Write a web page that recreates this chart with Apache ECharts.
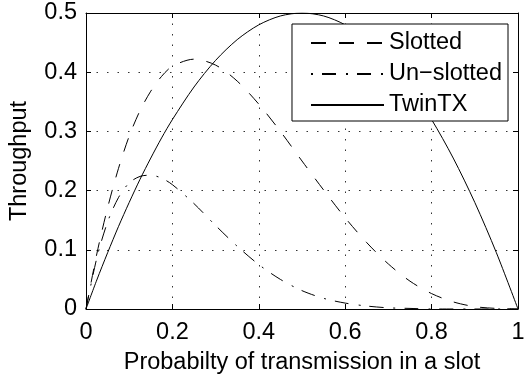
<!DOCTYPE html>
<html>
<head>
<meta charset="utf-8">
<script src="https://cdn.jsdelivr.net/npm/echarts@6/dist/echarts.min.js"></script>
<style>
  html, body { margin: 0; padding: 0; background: #fff; }
  #chart { width: 529px; height: 380px; }
</style>
</head>
<body>
<div id="chart"></div>
<script>
// probability of transmission (x samples)
const pValues = [0, 0.025, 0.05, 0.075, 0.1, 0.125, 0.15, 0.175, 0.2, 0.25, 0.3, 0.35, 0.4,
  0.45, 0.5, 0.55, 0.6, 0.65, 0.7, 0.75, 0.8, 0.85, 0.9, 0.95, 1]
const slotted = [0, 0.093, 0.171, 0.237, 0.292, 0.335, 0.368, 0.393, 0.410, 0.422, 0.412, 0.385, 0.346,
  0.300, 0.250, 0.201, 0.154, 0.112, 0.076, 0.047, 0.026, 0.012, 0.004, 0.001, 0]
const unSlotted = [0, 0.086, 0.147, 0.188, 0.213, 0.224, 0.226, 0.221, 0.210, 0.178, 0.141, 0.106, 0.075,
  0.050, 0.031, 0.018, 0.010, 0.005, 0.002, 0.001, 0, 0, 0, 0, 0]
const twinTX = [0, 0.049, 0.095, 0.139, 0.180, 0.219, 0.255, 0.289, 0.320, 0.375, 0.420, 0.455, 0.480,
  0.495, 0.500, 0.495, 0.480, 0.455, 0.420, 0.375, 0.320, 0.255, 0.180, 0.095, 0]
const seriesNames = ['Slotted', 'Un\u2212slotted', 'TwinTX']

const font = 'Liberation Sans, Arial, sans-serif'
const fontSize = 23.5
const pairs = ys => pValues.map((p, i) => [p, ys[i]])

const dashed = [14, 13]
const dashDot = [14, 10, 2, 9]

const chart = echarts.init(document.getElementById('chart'), null, { renderer: 'canvas' })

// matlab style box: ticks inside on all four sides
const boxAxis = (extra) => Object.assign({
  type: 'value',
  axisLine: { show: true, onZero: false, lineStyle: { color: '#000', width: 1 } },
  axisTick: { show: true, inside: true, length: 5, lineStyle: { color: '#000' } },
  axisLabel: { show: false },
  splitLine: { show: false }
}, extra)

const gridLine = { show: true, lineStyle: { color: '#333', width: 1, type: [1.5, 9] } }

chart.setOption({
  animation: false,
  backgroundColor: '#fff',
  grid: { left: 83, right: 11, top: 13, bottom: 66 },
  legend: {
    orient: 'vertical',
    right: 21,
    top: 24,
    padding: [7, 6, 4, 18],
    itemGap: 7,
    itemWidth: 73,
    itemHeight: 14,
    backgroundColor: '#fff',
    borderColor: '#000',
    borderWidth: 1,
    borderRadius: 0,
    itemStyle: { color: 'transparent', borderColor: 'transparent', borderWidth: 0 },
    textStyle: { fontFamily: font, fontSize: fontSize, color: '#000' },
    data: [
      { name: seriesNames[0], lineStyle: { type: [15, 13] } },
      { name: seriesNames[1], lineStyle: { type: [2, 9, 14, 10] } },
      { name: seriesNames[2] }
    ]
  },
  xAxis: [
    boxAxis({
      min: 0, max: 1, interval: 0.2,
      position: 'bottom',
      name: 'Probabilty of transmission in a slot',
      nameLocation: 'middle',
      nameGap: 42,
      nameTextStyle: { fontFamily: font, fontSize: fontSize, color: '#000' },
      axisLabel: { show: true, margin: 12, fontFamily: font, fontSize: fontSize, color: '#000' },
      splitLine: gridLine
    }),
    boxAxis({ min: 0, max: 1, interval: 0.2, position: 'top' })
  ],
  yAxis: [
    boxAxis({
      min: 0, max: 0.5, interval: 0.1,
      position: 'left',
      name: 'Throughput',
      nameLocation: 'middle',
      nameGap: 54,
      nameTextStyle: { fontFamily: font, fontSize: fontSize, color: '#000' },
      axisLabel: { show: true, margin: 9, fontFamily: font, fontSize: fontSize, color: '#000' },
      splitLine: gridLine
    }),
    boxAxis({ min: 0, max: 0.5, interval: 0.1, position: 'right' })
  ],
  series: [
    {
      name: seriesNames[0], type: 'line', data: pairs(slotted),
      symbol: 'none', smooth: 0.3,
      lineStyle: { color: '#000', width: 1, type: dashed },
      itemStyle: { color: '#000' }
    },
    {
      name: seriesNames[1], type: 'line', data: pairs(unSlotted),
      symbol: 'none', smooth: 0.3,
      lineStyle: { color: '#000', width: 1, type: dashDot },
      itemStyle: { color: '#000' }
    },
    {
      name: seriesNames[2], type: 'line', data: pairs(twinTX),
      symbol: 'none', smooth: 0.3,
      lineStyle: { color: '#000', width: 1 },
      itemStyle: { color: '#000' }
    }
  ]
})
</script>
</body>
</html>
